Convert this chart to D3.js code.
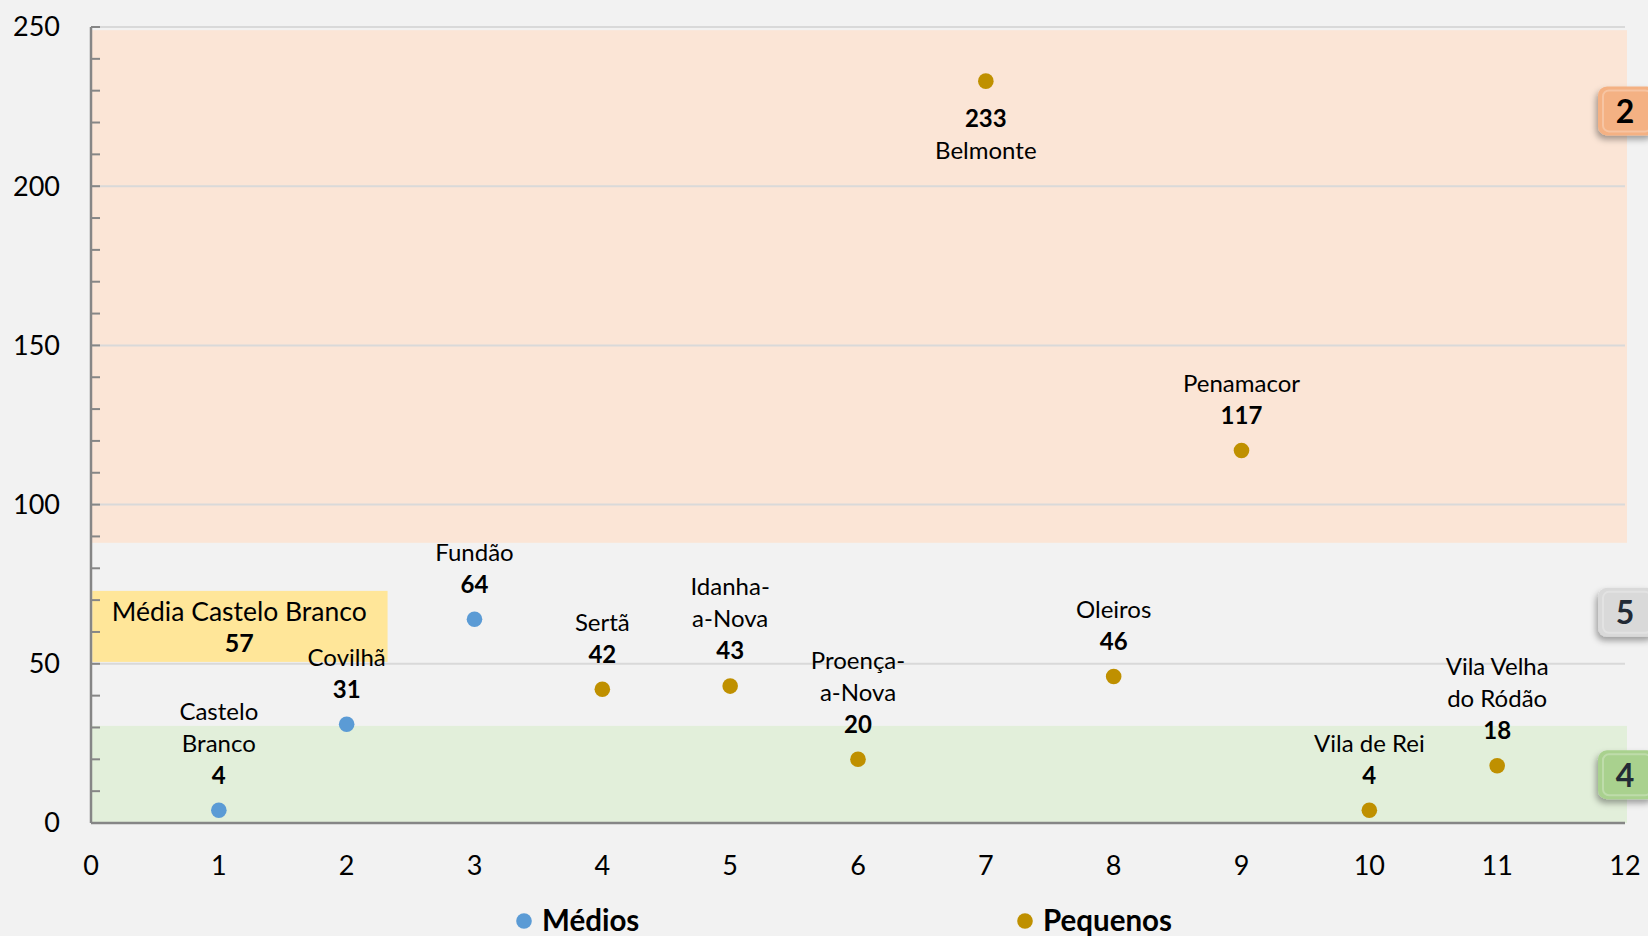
<!DOCTYPE html>
<html>
<head>
<meta charset="utf-8">
<script src="https://cdn.jsdelivr.net/npm/d3@7"></script>
<style>
  body { margin: 0; background: #f2f2f2; }
  svg { display: block; font-family: Lato, "Open Sans", sans-serif; }
</style>
</head>
<body>
<script>
// data
var municipios = ["Castelo\nBranco", "Covilhã", "Fundão", "Sertã", "Idanha-\na-Nova", "Proença-\na-Nova",
                  "Belmonte", "Oleiros", "Penamacor", "Vila de Rei", "Vila Velha\ndo Ródão"];
var posicoes = [1, 2, 3, 4, 5, 6, 7, 8, 9, 10, 11];
var valores = [4, 31, 64, 42, 43, 20, 233, 46, 117, 4, 18];
var grupos = ["Médios", "Médios", "Médios", "Pequenos", "Pequenos", "Pequenos",
              "Pequenos", "Pequenos", "Pequenos", "Pequenos", "Pequenos"];
var labelAbaixo = ["Belmonte"];

var seriesNames = ["Médios", "Pequenos"];
var seriesColors = ["#5b9bd5", "#bf9000"];

// bands behind the points (from / to in y units)
var bandFrom = [88, 30.5, 0];
var bandTo = [249, 88, 30.5];
var bandColors = ["#fbe5d6", "none", "#e2efda"];

// badges on the right edge
var badgeText = ["2", "5", "4"];
var badgeAt = [223.5, 66, 15];
var badgeColors = ["#f4b183", "#d9d9d9", "#a9d18e"];

// average box
var mediaLabel = "Média Castelo Branco";
var mediaValor = 57;

var xTicks = d3.range(0, 13);
var yTicks = [0, 50, 100, 150, 200, 250];
var yMinor = d3.range(0, 251, 10);

// set the dimensions and margins of the graph
var margin = {top: 27, right: 23, bottom: 113, left: 91},
    width = 1648 - margin.left - margin.right,
    height = 936 - margin.top - margin.bottom;

var x = d3.scaleLinear().domain([0, 12]).range([0, width]);
var y = d3.scaleLinear().domain([0, 250]).range([height, 0]);
var color = d3.scaleOrdinal().domain(seriesNames).range(seriesColors);

var svg = d3.select("body").append("svg")
    .attr("width", 1648)
    .attr("height", 936);

var defs = svg.append("defs");
var shadow = defs.append("filter").attr("id", "shadow")
    .attr("x", "-30%").attr("y", "-30%").attr("width", "160%").attr("height", "170%");
shadow.append("feDropShadow")
    .attr("dx", -2).attr("dy", 4).attr("stdDeviation", 3)
    .attr("flood-color", "#000").attr("flood-opacity", 0.35);

var g = svg.append("g")
    .attr("transform", "translate(" + margin.left + "," + margin.top + ")");

// bands
g.selectAll(".band")
    .data(d3.range(bandFrom.length))
    .enter().append("rect")
    .attr("class", "band")
    .attr("x", x(0))
    .attr("width", x(12) - x(0) + 2)
    .attr("y", function(i) { return y(bandTo[i]); })
    .attr("height", function(i) { return y(bandFrom[i]) - y(bandTo[i]); })
    .attr("fill", function(i) { return bandColors[i]; });

// gridlines
g.append("g")
    .selectAll("line")
    .data(yTicks.slice(1))
    .enter().append("line")
    .attr("x1", 0).attr("x2", width)
    .attr("y1", function(d) { return y(d); })
    .attr("y2", function(d) { return y(d); })
    .attr("stroke", "#d9d9d9")
    .attr("stroke-width", 2);

// average box
g.append("rect")
    .attr("x", x(0.01))
    .attr("width", x(2.32) - x(0.01))
    .attr("y", y(72.9))
    .attr("height", y(50.6) - y(72.9))
    .attr("fill", "#ffe699");
g.append("text")
    .attr("x", x(1.16))
    .attr("y", y(66.5))
    .attr("dy", "0.35em")
    .attr("text-anchor", "middle")
    .style("font-size", "26.5px")
    .text(mediaLabel);
g.append("text")
    .attr("x", x(1.16))
    .attr("y", y(56.5))
    .attr("dy", "0.35em")
    .attr("text-anchor", "middle")
    .style("font-size", "25px")
    .style("font-weight", "bold")
    .text(mediaValor);

// Y axis with minor ticks inside
g.append("g")
    .selectAll("line")
    .data(yMinor)
    .enter().append("line")
    .attr("x1", 0).attr("x2", 9)
    .attr("y1", function(d) { return y(d); })
    .attr("y2", function(d) { return y(d); })
    .attr("stroke", "#868686")
    .attr("stroke-width", 2);
g.append("line")
    .attr("x1", 0).attr("x2", 0)
    .attr("y1", 0).attr("y2", height)
    .attr("stroke", "#868686").attr("stroke-width", 2.5);
g.append("line")
    .attr("x1", 0).attr("x2", width)
    .attr("y1", height).attr("y2", height)
    .attr("stroke", "#868686").attr("stroke-width", 2.5);

g.selectAll(".ytick")
    .data(yTicks)
    .enter().append("text")
    .attr("class", "ytick")
    .attr("x", -31)
    .attr("y", function(d) { return y(d); })
    .attr("dy", "0.35em")
    .attr("text-anchor", "end")
    .style("font-size", "27px")
    .text(function(d) { return d; });

g.selectAll(".xtick")
    .data(xTicks)
    .enter().append("text")
    .attr("class", "xtick")
    .attr("x", function(d) { return x(d); })
    .attr("y", height + 43)
    .attr("dy", "0.35em")
    .attr("text-anchor", "middle")
    .style("font-size", "27px")
    .text(function(d) { return d; });

// points
var pts = d3.range(valores.length);
g.selectAll(".dot")
    .data(pts)
    .enter().append("circle")
    .attr("class", "dot")
    .attr("cx", function(i) { return x(posicoes[i]); })
    .attr("cy", function(i) { return y(valores[i]); })
    .attr("r", 7.8)
    .attr("fill", function(i) { return color(grupos[i]); });

// data labels: name lines + bold value
var lineH = 32;
pts.forEach(function(i) {
    var cx = x(posicoes[i]), cy = y(valores[i]);
    var lines = municipios[i].split("\n");
    var below = labelAbaixo.indexOf(municipios[i]) >= 0;
    var valY = below ? cy + 37 : cy - 35;
    g.append("text")
        .attr("x", cx).attr("y", valY).attr("dy", "0.35em")
        .attr("text-anchor", "middle")
        .style("font-size", "24px").style("font-weight", "bold")
        .text(valores[i]);
    lines.forEach(function(l, k) {
        var ly = below ? valY + lineH * (k + 1) : valY - lineH * (lines.length - k);
        g.append("text")
            .attr("x", cx).attr("y", ly).attr("dy", "0.35em")
            .attr("text-anchor", "middle")
            .style("font-size", "24px")
            .text(l);
    });
});

// badges
var badges = svg.selectAll(".badge")
    .data(d3.range(badgeText.length))
    .enter().append("g")
    .attr("class", "badge")
    .attr("transform", function(i) {
        return "translate(" + (margin.left + width - 27) + "," + (margin.top + y(badgeAt[i]) - 25) + ")";
    });
badges.append("rect")
    .attr("width", 58).attr("height", 49)
    .attr("rx", 9).attr("ry", 9)
    .attr("fill", function(i) { return badgeColors[i]; })
    .attr("filter", "url(#shadow)");
badges.append("rect")
    .attr("x", 5).attr("y", 4)
    .attr("width", 48).attr("height", 41)
    .attr("rx", 6).attr("ry", 6)
    .attr("fill", "none")
    .attr("stroke", "#ffffff").attr("stroke-opacity", 0.25).attr("stroke-width", 2);
badges.append("text")
    .attr("x", 27).attr("y", 25).attr("dy", "0.36em")
    .attr("text-anchor", "middle")
    .style("font-size", "32px").style("font-weight", "bold")
    .attr("fill", function(i) { return i === 0 ? "#000" : "#222a35"; })
    .text(function(i) { return badgeText[i]; });

// Add Legends
var legX = [524, 1025];
var legend = svg.selectAll(".legend")
    .data(seriesNames)
    .enter().append("g")
    .attr("class", "legend")
    .attr("transform", function(d, i) { return "translate(" + legX[i] + ",921)"; });
legend.append("circle")
    .attr("r", 7.8)
    .attr("fill", function(d) { return color(d); });
legend.append("text")
    .attr("x", 18).attr("dy", "0.35em")
    .style("font-size", "29.5px").style("font-weight", "bold")
    .text(function(d) { return d; });
</script>
</body>
</html>
